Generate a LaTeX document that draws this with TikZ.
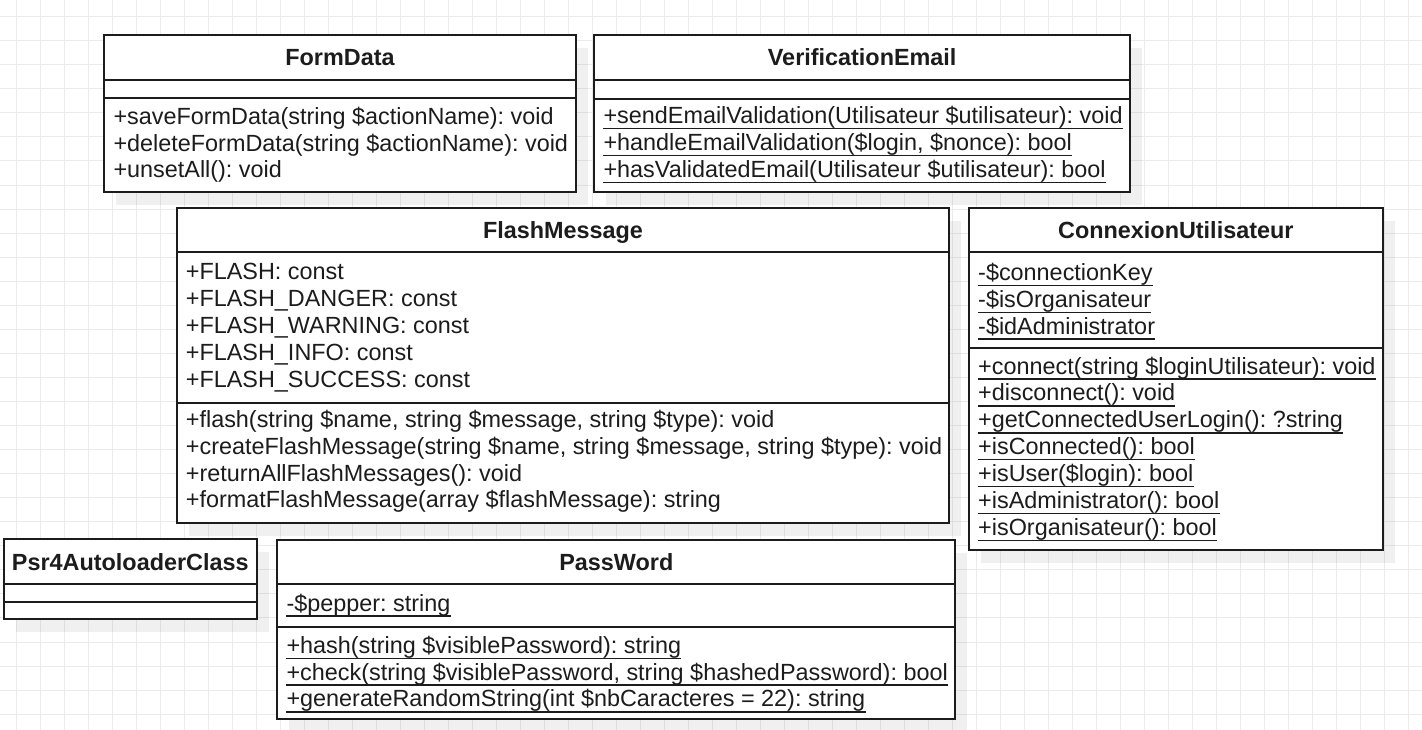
\documentclass[tikz,border=0pt]{standalone}
\usepackage{fontspec}
\setmainfont{Liberation Sans}
\usetikzlibrary{calc}

\definecolor{ink}{HTML}{1C1C1C}
\definecolor{gridgray}{HTML}{EBEBEB}

\tikzset{
  gridline/.style={draw=gridgray, line width=1pt},
  boxshadow/.style={fill=black, fill opacity=0.06},
  frame/.style={draw=ink, line width=2pt, fill=white, inner sep=0pt, outer sep=0pt},
  sepline/.style={draw=ink, line width=2pt},
  title/.style={anchor=base, inner sep=0pt, text=ink, font=\fontsize{23.4}{27}\selectfont\bfseries\frenchspacing},
  member/.style={anchor=base west, inner sep=0pt, text=ink, font=\fontsize{23.4}{27}\selectfont\frenchspacing},
  uline/.style={draw=ink, line width=1.4pt},
}

% class frame: id, x1, y1, x2, y2, compartment separators
\newcommand\classframe[6]{%
  \fill[boxshadow] (#2+12,#3+13) rectangle (#4+12,#5+13);
  \node[frame, minimum width={#4-#2}, minimum height={#5-#3}, anchor=north west] (#1) at (#2,#3) {};
  \foreach \s in {#6} \draw[sepline] (#2,\s) -- (#4,\s);
}
% plain member line
\newcommand\plainmember[4]{\node[member] (#1) at (#2,#3) {#4};}
% static (underlined) member line
\newcommand\staticmember[4]{%
  \node[member] (#1) at (#2,#3) {#4};
  \draw[uline] ([yshift=-5pt]#1.base west) -- ([yshift=-5pt]#1.base east);
}

\begin{document}
\begin{tikzpicture}[x=1pt,y=-1pt]
  \fill[white] (0,0) rectangle (1422,730);
  \useasboundingbox (0,0) rectangle (1422,730);

  % background grid
  \foreach \i in {0,...,58} \draw[gridline] (16.7+24*\i,0) -- (16.7+24*\i,730);
  \foreach \j in {0,...,29} \draw[gridline] (0,16.7+24.05*\j) -- (1422,16.7+24.05*\j);

  % FormData
  \classframe{formdata}{104.3}{34.7}{575.7}{191.7}{80,98.3}
  \node[title] (formdata-t) at (340,65.7) {FormData};
  \plainmember{fd-m1}{113.3}{124.3}{+saveFormData(string \$actionName): void}
  \plainmember{fd-m2}{113.3}{151.1}{+deleteFormData(string \$actionName): void}
  \plainmember{fd-m3}{113.3}{177.9}{+unsetAll(): void}

  % VerificationEmail
  \classframe{verif}{594.3}{35}{1130}{191.7}{80,98.7}
  \node[title] (verif-t) at (862.2,65.7) {VerificationEmail};
  \staticmember{ve-m1}{603.3}{123.8}{+sendEmailValidation(Utilisateur \$utilisateur): void}
  \staticmember{ve-m2}{603.3}{150.6}{+handleEmailValidation(\$login, \$nonce): bool}
  \staticmember{ve-m3}{603.3}{177.4}{+hasValidatedEmail(Utilisateur \$utilisateur): bool}

  % FlashMessage
  \classframe{flash}{176.7}{208.3}{949.3}{523.3}{252.3,402.7}
  \node[title] (flash-t) at (563,238.7) {FlashMessage};
  \plainmember{fm-a1}{185.7}{279.8}{+FLASH: const}
  \plainmember{fm-a2}{185.7}{306.6}{+FLASH\_DANGER: const}
  \plainmember{fm-a3}{185.7}{333.4}{+FLASH\_WARNING: const}
  \plainmember{fm-a4}{185.7}{360.2}{+FLASH\_INFO: const}
  \plainmember{fm-a5}{185.7}{387}{+FLASH\_SUCCESS: const}
  \plainmember{fm-m1}{185.7}{427.4}{+flash(string \$name, string \$message, string \$type): void}
  \plainmember{fm-m2}{185.7}{454.2}{+createFlashMessage(string \$name, string \$message, string \$type): void}
  \plainmember{fm-m3}{185.7}{481}{+returnAllFlashMessages(): void}
  \plainmember{fm-m4}{185.7}{507.8}{+formatFlashMessage(array \$flashMessage): string}

  % ConnexionUtilisateur
  \classframe{conn}{969}{208.3}{1382.7}{550}{252.3,348.3}
  \node[title] (conn-t) at (1175.8,238.7) {ConnexionUtilisateur};
  \staticmember{cu-a1}{978}{280.3}{-\$connectionKey}
  \staticmember{cu-a2}{978}{307.2}{-\$isOrganisateur}
  \staticmember{cu-a3}{978}{334.1}{-\$idAdministrator}
  \staticmember{cu-m1}{978}{374}{+connect(string \$loginUtilisateur): void}
  \staticmember{cu-m2}{978}{400.9}{+disconnect(): void}
  \staticmember{cu-m3}{978}{427.8}{+getConnectedUserLogin(): ?string}
  \staticmember{cu-m4}{978}{454.7}{+isConnected(): bool}
  \staticmember{cu-m5}{978}{481.6}{+isUser(\$login): bool}
  \staticmember{cu-m6}{978}{508.5}{+isAdministrator(): bool}
  \staticmember{cu-m7}{978}{535.4}{+isOrganisateur(): bool}

  % Psr4AutoloaderClass
  \classframe{psr}{4}{539.3}{256.7}{619}{584.3,602.3}
  \node[title] (psr-t) at (130.3,570.2) {Psr4AutoloaderClass};

  % PassWord
  \classframe{pass}{277.3}{540}{955.3}{719.3}{584,626.7}
  \node[title] (pass-t) at (616.3,570.4) {PassWord};
  \staticmember{pw-a1}{286.3}{611}{-\$pepper: string}
  \staticmember{pw-m1}{286.3}{653.3}{+hash(string \$visiblePassword): string}
  \staticmember{pw-m2}{286.3}{680.1}{+check(string \$visiblePassword, string \$hashedPassword): bool}
  \staticmember{pw-m3}{286.3}{706.9}{+generateRandomString(int \$nbCaracteres = 22): string}
\end{tikzpicture}
\end{document}
